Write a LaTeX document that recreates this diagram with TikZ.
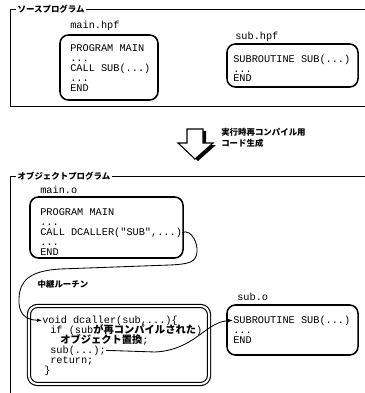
\documentclass[tikz,border=0pt]{standalone}
\usepackage{fontspec}
\setmonofont{Liberation Mono}
\newfontfamily\cjk{Noto Sans CJK JP}
\newcommand{\jtext}[1]{{\cjk\bfseries #1}}
\usetikzlibrary{arrows.meta}

\begin{document}
\begin{tikzpicture}[x=0.025cm, y=-0.025cm,
   frame_style/.style={draw=black, line width=0.6pt},
   title_style/.style={fill=white, inner sep=1pt, anchor=west, font=\cjk\bfseries\fontsize{6}{7}\selectfont},
   name_style/.style={anchor=base west, inner sep=0pt, font=\ttfamily\fontsize{7.3}{8}\selectfont},
   code_style/.style={anchor=base west, inner sep=0pt, font=\ttfamily\fontsize{7.3}{8}\selectfont},
   box_style/.style={draw=black, line width=1.1pt, rounded corners=6pt},
   edge_style/.style={draw=black, line width=0.6pt, -{Latex[length=3.5pt,width=2.6pt]}}]

    \useasboundingbox (0,0) rectangle (364,393);

    % source program
    \draw[frame_style] (370,9) -- (10,9) -- (10,106) -- (370,106);
    \node[title_style] (src) at (16,9) {ソースプログラム};

    \node[name_style] (mhname) at (70,29) {main.hpf};
    \node[box_style, minimum width=2.45cm, minimum height=1.625cm] (mainhpf) at (109,67.5) {};
    \node[code_style] (mh1) at (70,52) {PROGRAM MAIN};
    \node[code_style] (mh2) at (70,62) {...};
    \node[code_style] (mh3) at (70,72) {CALL SUB(...)};
    \node[code_style] (mh4) at (70,82) {...};
    \node[code_style] (mh5) at (70,92) {END};

    \node[name_style] (shname) at (235,40) {sub.hpf};
    \node[box_style, minimum width=3.275cm, minimum height=1.075cm] (subhpf) at (292.5,65.5) {};
    \node[code_style] (sh1) at (233,63) {SUBROUTINE SUB(...)};
    \node[code_style] (sh2) at (233,72.5) {...};
    \node[code_style] (sh3) at (233,82) {END};

    % block arrow
    \fill[black, shift={(3,2)}] (187,129) -- (203,129) -- (203,143) -- (213,143) -- (195,159) -- (178,143) -- (187,143) -- cycle;
    \filldraw[fill=white, draw=black, line width=0.8pt] (187,129) -- (203,129) -- (203,143) -- (213,143) -- (195,159) -- (178,143) -- (187,143) -- cycle;
    \node[anchor=north west, align=left, inner sep=0pt, font=\cjk\bfseries\fontsize{6}{8}\selectfont] (gen) at (221,128) {実行時再コンパイル用\\コード生成};

    % object program
    \draw[frame_style] (370,176) -- (10,176) -- (10,400);
    \node[title_style] (obj) at (16,176) {オブジェクトプログラム};

    \node[name_style] (moname) at (40,193) {main.o};
    \node[box_style, minimum width=3.825cm, minimum height=1.525cm] (maino) at (106.5,227.5) {};
    \node[code_style] (mo1) at (40,215) {PROGRAM MAIN};
    \node[code_style] (mo2) at (40,225) {...};
    \node[code_style] (mo3) at (40,235) {CALL DCALLER("SUB",...)};
    \node[code_style] (mo4) at (40,245) {...};
    \node[code_style] (mo5) at (40,255) {END};

    \node[title_style, fill=none] (relay) at (36,284) {中継ルーチン};

    \node[box_style, double, double distance=1.4pt, line width=0.8pt, minimum width=4.5cm, minimum height=1.95cm] (dcaller) at (119,345) {};
    \node[code_style] (dc1) at (42,323) {void dcaller(sub,...)\{};
    \node[code_style] (dc2) at (50,333) {if (sub\jtext{が再コンパイルされた})};
    \node[code_style] (dc3) at (60,343) {\jtext{オブジェクト置換};};
    \node[code_style] (dc4) at (50,353) {sub(...);};
    \node[code_style] (dc5) at (50,363) {return;};
    \node[code_style] (dc6) at (44,373) {\}};

    \node[name_style] (soname) at (237,300) {sub.o};
    \node[box_style, minimum width=3.275cm, minimum height=1.25cm] (subo) at (292.5,330) {};
    \node[code_style] (so1) at (233,323) {SUBROUTINE SUB(...)};
    \node[code_style] (so2) at (233,333) {...};
    \node[code_style] (so3) at (233,343) {END};

    \draw[edge_style] (mo3.east) .. controls (192,229) and (198,244) .. (197,252)
        .. controls (196,262) and (190,264) .. (170,265) -- (60,269)
        .. controls (30,271) and (20,280) .. (19,298)
        .. controls (18,312) and (24,320) .. (dc1.west);
    \draw[edge_style] (dc4.east) -- (155,352) .. controls (195,350) and (205,322) .. (so1.west);
\end{tikzpicture}
\end{document}
